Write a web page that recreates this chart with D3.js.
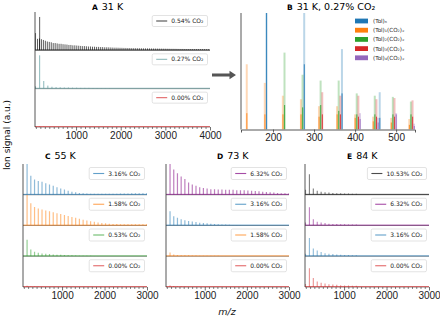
<!DOCTYPE html>
<html>
<head>
<meta charset="utf-8">
<script src="https://cdn.jsdelivr.net/npm/d3@7"></script>
<style>
  body { margin: 0; background: #fff; }
  svg { font-family: "DejaVu Sans", sans-serif; }
</style>
</head>
<body>
<svg id="chart" width="440" height="319"></svg>
<script>
// ---- peak positions (m/z) ----
const mzTol = [92, 184, 276, 368, 460, 552, 644, 736, 828, 920, 1012, 1104, 1196, 1288, 1380, 1472,
  1564, 1656, 1748, 1840, 1932, 2024, 2116, 2208, 2300, 2392, 2484, 2576, 2668, 2760, 2852, 2944];
const mzPair = [176, 264, 352, 440, 528, 616, 704, 792, 880, 968, 1056, 1144, 1232, 1320, 1408, 1496,
  1584, 1672, 1760, 1848, 1936, 2024, 2112, 2200, 2288, 2376, 2464, 2552, 2640, 2728, 2816, 2904, 2992];
const mzComb = [136, 180, 224, 268, 312, 356, 400, 444, 488, 532,
  576, 620, 664, 708, 752, 796, 840, 884, 928, 972,
  1016, 1060, 1104, 1148, 1192, 1236, 1280, 1324, 1368, 1412,
  1456, 1500, 1544, 1588, 1632, 1676, 1720, 1764, 1808, 1852,
  1896, 1940, 1984, 2028, 2072, 2116, 2160, 2204, 2248, 2292,
  2336, 2380, 2424, 2468, 2512, 2556, 2600, 2644, 2688, 2732,
  2776, 2820, 2864, 2908, 2952, 2996, 3040, 3084, 3128, 3172,
  3216, 3260, 3304, 3348, 3392, 3436, 3480, 3524, 3568, 3612,
  3656, 3700, 3744, 3788, 3832, 3876, 3920, 3964];

// ---- panel A, 31 K (relative peak heights) ----
const a054Main = [0.45, 0.87];
const a054Comb = [0.30, 0.31, 0.29, 0.27, 0.25, 0.23, 0.22, 0.21, 0.19, 0.19,
  0.18, 0.17, 0.17, 0.16, 0.155, 0.15, 0.14, 0.14, 0.13, 0.13,
  0.125, 0.12, 0.115, 0.11, 0.11, 0.105, 0.10, 0.10, 0.095, 0.095,
  0.09, 0.09, 0.085, 0.085, 0.08, 0.08, 0.078, 0.075, 0.073, 0.07,
  0.07, 0.068, 0.066, 0.065, 0.063, 0.062, 0.06, 0.06, 0.058, 0.057,
  0.056, 0.055, 0.054, 0.053, 0.052, 0.051, 0.05, 0.05, 0.049, 0.048,
  0.047, 0.046, 0.045, 0.045, 0.044, 0.043, 0.042, 0.041, 0.04, 0.04,
  0.039, 0.038, 0.037, 0.036, 0.036, 0.035, 0.034, 0.034, 0.033, 0.033,
  0.032, 0.032, 0.031, 0.031, 0.03, 0.03, 0.029, 0.029];
const a027 = [0.06, 0.87, 0.2, 0.08, 0.05, 0.04, 0.035, 0.03, 0.03, 0.025, 0.025, 0.02, 0.02, 0.02,
  0.015, 0.015, 0.01, 0.01, 0.01];
const a000 = [0.02, 0.015, 0.01];

// ---- panel B, 31 K 0.27% CO2 (light = full peak, dark = core) ----
const bMzTol = [184, 276, 368, 460];
const bTolLight = [1.4, 1.4, 0.69, 0.32];
const bTolDark = [1.4, 0.56, 0.31, 0.1];
const bMzT1 = [136, 180, 224, 268, 312, 356, 400, 444, 488, 532];
const bT1Light = [0.56, 0.40, 0.29, 0.26, 0.2, 0.2, 0.13, 0.11, 0.1, 0.09];
const bT1Dark = [0.14, 0.13, 0.13, 0.13, 0.11, 0.13, 0.1, 0.07, 0.06, 0.04];
const bMzT2 = [228, 272, 316, 360, 404, 448, 492, 536];
const bT2Light = [0.66, 0.47, 0.42, 0.42, 0.31, 0.29, 0.28, 0.24];
const bT2Dark = [0.21, 0.19, 0.21, 0.16, 0.13, 0.13, 0.13, 0.13];
const bMzT3 = [320, 364, 408, 452, 496, 540];
const bT3Light = [0.32, 0.29, 0.29, 0.26, 0.27, 0.25];
const bT3Dark = [0.13, 0.13, 0.11, 0.11, 0.11, 0.11];
const bMzT4 = [412, 456, 500, 544];
const bT4Light = [0.14, 0.1, 0.14, 0.05];
const bT4Dark = [0.09, 0.06, 0.13, 0.03];
const bLabels = ["(Tol)ₙ", "(Tol)₁(CO₂)ₓ", "(Tol)₂(CO₂)ₓ", "(Tol)₃(CO₂)ₓ", "(Tol)₄(CO₂)ₓ"];

// ---- panel C, 55 K ----
const c316 = [1.0, 0.62, 0.5, 0.45, 0.42, 0.37, 0.33, 0.29, 0.24, 0.2, 0.17, 0.13, 0.1, 0.08, 0.06, 0.05,
  0.04, 0.035, 0.03, 0.03, 0.03, 0.03, 0.03, 0.035, 0.035, 0.04, 0.04, 0.04, 0.045, 0.045, 0.05, 0.05, 0.05];
const c158 = [1.0, 0.72, 0.6, 0.55, 0.52, 0.49, 0.46, 0.43, 0.4, 0.37, 0.34, 0.31, 0.28, 0.25, 0.22, 0.19,
  0.16, 0.14, 0.12, 0.1, 0.08, 0.07, 0.06, 0.05, 0.045, 0.04, 0.04, 0.04, 0.04, 0.04, 0.04, 0.04, 0.04];
const c053 = [0.54, 0.22, 0.15, 0.11, 0.09, 0.08, 0.07, 0.06, 0.05, 0.045, 0.04, 0.035, 0.03, 0.025,
  0.02, 0.02, 0.015, 0.015, 0.01, 0.01];
const c000 = [0.04, 0.02, 0.015, 0.01, 0.01];

// ---- panel D, 73 K ----
const d632 = [1.0, 0.82, 0.7, 0.59, 0.51, 0.4, 0.33, 0.29, 0.24, 0.22, 0.2, 0.18, 0.18, 0.17, 0.17, 0.16,
  0.16, 0.16, 0.15, 0.15, 0.15, 0.14, 0.13, 0.12, 0.11, 0.1, 0.09, 0.08, 0.07, 0.06, 0.05, 0.05, 0.04];
const d316 = [0.46, 0.3, 0.25, 0.2, 0.17, 0.15, 0.13, 0.11, 0.09, 0.08, 0.07, 0.06, 0.05, 0.04, 0.035,
  0.03, 0.025, 0.02, 0.02, 0.015];
const d158 = [0.12, 0.06, 0.04, 0.035, 0.03, 0.03, 0.025, 0.025, 0.02, 0.02, 0.02, 0.02, 0.015, 0.015, 0.01, 0.01];
const d000 = [0.05, 0.03, 0.02, 0.015, 0.01];

// ---- panel E, 84 K ----
const e1053 = [0.16, 0.67, 0.2, 0.13, 0.1, 0.08, 0.07, 0.06, 0.05, 0.05, 0.04, 0.04, 0.03, 0.03];
const e632 = [0.1, 0.59, 0.2, 0.12, 0.1, 0.08, 0.06, 0.05, 0.05, 0.04, 0.04, 0.03, 0.03, 0.03];
const e316 = [0.08, 0.59, 0.25, 0.19, 0.14, 0.1, 0.08, 0.07, 0.06, 0.05, 0.04, 0.04, 0.03, 0.03];
const e000 = [0.1, 0.61, 0.29, 0.18, 0.14, 0.11, 0.09, 0.08, 0.07, 0.06, 0.05, 0.05, 0.04, 0.04];

const C = {
  blue: "#1f77b4", orange: "#ff7f0e", green: "#2ca02c", red: "#d62728",
  violet: "#9467bd", purple: "purple", teal: "#5f9ea0", black: "#000"
};

const svg = d3.select("#chart");
const defs = svg.append("defs");

// stacked spectra panels
const panels = [
  { key: "A", title: "31 K", tx: 92, ty: 9.5, x0: 35, x1: 210, top: 12, bottom: 127,
    domain: [80, 4000], majors: [1000, 2000, 3000, 4000], lw: 0.8, legH: 11,
    series: [
      { label: "0.54% CO₂", color: C.black, alpha: 0.8, parts: [[mzTol, a054Main], [mzComb, a054Comb]] },
      { label: "0.27% CO₂", color: C.teal, alpha: 0.9, parts: [[mzTol, a027]] },
      { label: "0.00% CO₂", color: C.red, alpha: 0.6, parts: [[mzTol, a000]] }
    ] },
  { key: "C", title: "55 K", tx: 45, ty: 158.5, x0: 23, x1: 147, top: 164, bottom: 287,
    domain: [80, 3000], majors: [1000, 2000, 3000], lw: 1.2, legH: 12,
    series: [
      { label: "3.16% CO₂", color: C.blue, parts: [[mzPair, c316]] },
      { label: "1.58% CO₂", color: C.orange, parts: [[mzPair, c158]] },
      { label: "0.53% CO₂", color: C.green, parts: [[mzPair, c053]] },
      { label: "0.00% CO₂", color: C.red, parts: [[mzPair, c000]] }
    ] },
  { key: "D", title: "73 K", tx: 217, ty: 158.5, x0: 166, x1: 289, top: 164, bottom: 287,
    domain: [80, 3000], majors: [1000, 2000, 3000], lw: 1.2, legH: 12,
    series: [
      { label: "6.32% CO₂", color: C.purple, parts: [[mzPair, d632]] },
      { label: "3.16% CO₂", color: C.blue, parts: [[mzPair, d316]] },
      { label: "1.58% CO₂", color: C.orange, parts: [[mzPair, d158]] },
      { label: "0.00% CO₂", color: C.red, parts: [[mzPair, d000]] }
    ] },
  { key: "E", title: "84 K", tx: 347, ty: 158.5, x0: 305, x1: 429, top: 164, bottom: 287,
    domain: [80, 3000], majors: [1000, 2000, 3000], lw: 1.1, legH: 12,
    series: [
      { label: "10.53% CO₂", color: C.black, parts: [[mzTol, e1053]] },
      { label: "6.32% CO₂", color: C.purple, parts: [[mzTol, e632]] },
      { label: "3.16% CO₂", color: C.blue, parts: [[mzTol, e316]] },
      { label: "0.00% CO₂", color: C.red, parts: [[mzTol, e000]] }
    ] }
];

function drawTitle(letter, text, x, y) {
  const t = svg.append("text").attr("x", x).attr("y", y).attr("fill", "#000");
  t.append("tspan").attr("font-weight", "bold").attr("font-size", 7.5).text(letter);
  t.append("tspan").attr("dx", 4).attr("font-size", 9.5).text(text);
}

function drawLegend(s, right, top, h) {
  const g = svg.append("g");
  const box = g.append("rect");
  const cy = top + h / 2;
  const t = g.append("text").attr("font-size", 6).attr("fill", "#222").text(s.label);
  const w = t.node().getComputedTextLength() + 23;
  const left = right - w;
  box.attr("x", left).attr("y", top).attr("width", w).attr("height", h)
    .attr("rx", 1.5).attr("fill", "#fff").attr("fill-opacity", 0.85)
    .attr("stroke", "#d0d0d0").attr("stroke-width", 0.6);
  g.append("line").attr("x1", left + 4).attr("x2", left + 15).attr("y1", cy).attr("y2", cy)
    .attr("stroke", s.color).attr("stroke-width", 1.1).attr("stroke-opacity", 0.7);
  t.attr("x", left + 19).attr("y", cy + 2.1);
}

function drawStack(p) {
  const x = d3.scaleLinear().domain(p.domain).range([p.x0, p.x1]);
  const h = (p.bottom - p.top) / p.series.length;

  p.series.forEach((s, i) => {
    const top = p.top + i * h, bot = top + h;
    const y = d3.scaleLinear().domain([0, 1]).range([bot, top]);
    const id = `clip-${p.key}-${i}`;
    defs.append("clipPath").attr("id", id).append("rect")
      .attr("x", p.x0).attr("y", top).attr("width", p.x1 - p.x0).attr("height", h);

    const peaks = s.parts.flatMap(([mz, val]) => val.map((v, k) => ({ mz: mz[k], v })));
    svg.append("g").attr("clip-path", `url(#${id})`)
      .selectAll("line").data(peaks).join("line")
        .attr("x1", d => x(d.mz)).attr("x2", d => x(d.mz))
        .attr("y1", y(0)).attr("y2", d => y(d.v))
        .attr("stroke", s.color).attr("stroke-width", p.lw)
        .attr("stroke-opacity", s.alpha || 0.5);

    // spine of this subplot + the spectrum baseline on top of it
    svg.append("line").attr("x1", p.x0).attr("x2", p.x1).attr("y1", bot).attr("y2", bot)
      .attr("stroke", "#777").attr("stroke-width", 0.8);
    svg.append("line").attr("x1", p.x0).attr("x2", p.x1).attr("y1", y(0) - 0.4).attr("y2", y(0) - 0.4)
      .attr("stroke", s.color).attr("stroke-width", 0.9).attr("stroke-opacity", 0.75);

    drawLegend(s, p.x1 - 2.5, top + 3.5, p.legH);
  });

  svg.append("line").attr("x1", p.x0).attr("x2", p.x0).attr("y1", p.top).attr("y2", p.bottom)
    .attr("stroke", "#444").attr("stroke-width", 0.9);

  const minors = d3.range(100, p.domain[1] + 1, 100).filter(v => v > p.domain[0] && !p.majors.includes(v));
  svg.append("g").attr("transform", `translate(0,${p.bottom})`)
    .call(d3.axisBottom(x).tickValues(minors).tickSize(2).tickFormat(""))
    .call(g => g.select(".domain").remove())
    .call(g => g.selectAll("line").attr("stroke", "#333").attr("stroke-width", 0.6));
  svg.append("g").attr("transform", `translate(0,${p.bottom})`)
    .attr("font-size", 7).attr("font-family", "DejaVu Sans")
    .call(d3.axisBottom(x).tickValues(p.majors).tickSize(3.5).tickPadding(1.5).tickFormat(d3.format("d")))
    .call(g => g.select(".domain").remove())
    .call(g => g.selectAll("line").attr("stroke", "#333").attr("stroke-width", 0.7))
    .call(g => g.selectAll("text").attr("fill", "#222"));

  drawTitle(p.key, p.title, p.tx, p.ty);
}

panels.forEach(drawStack);

// ---- panel B: cluster families ----
function drawFamilies() {
  const x0 = 241, x1 = 415, top = 13, bottom = 129.5;
  const x = d3.scaleLinear().domain([122, 546]).range([x0, x1]);
  const y = d3.scaleLinear().domain([0, 1]).range([bottom, top]);
  defs.append("clipPath").attr("id", "clip-B").append("rect")
    .attr("x", x0).attr("y", top).attr("width", x1 - x0).attr("height", bottom - top);

  const families = [
    { color: C.blue, mz: bMzTol, light: bTolLight, dark: bTolDark },
    { color: C.orange, mz: bMzT1, light: bT1Light, dark: bT1Dark },
    { color: C.green, mz: bMzT2, light: bT2Light, dark: bT2Dark },
    { color: C.red, mz: bMzT3, light: bT3Light, dark: bT3Dark },
    { color: C.violet, mz: bMzT4, light: bT4Light, dark: bT4Dark }
  ];
  const g = svg.append("g").attr("clip-path", "url(#clip-B)");
  families.forEach(f => {
    const rows = f.mz.map((m, k) => ({ m, light: f.light[k], dark: f.dark[k] }));
    g.append("g").selectAll("rect").data(rows).join("rect")
      .attr("x", d => x(d.m) - 1).attr("width", 2)
      .attr("y", d => y(d.light)).attr("height", d => y(0) - y(d.light))
      .attr("fill", f.color).attr("fill-opacity", 0.3);
    g.append("g").selectAll("rect").data(rows).join("rect")
      .attr("x", d => x(d.m) - 0.4).attr("width", 1)
      .attr("y", d => y(d.dark)).attr("height", d => y(0) - y(d.dark))
      .attr("fill", f.color).attr("fill-opacity", 0.85);
  });

  svg.append("line").attr("x1", x0).attr("x2", x0).attr("y1", top).attr("y2", bottom)
    .attr("stroke", "#444").attr("stroke-width", 0.9);
  svg.append("g").attr("transform", `translate(0,${bottom})`)
    .attr("font-size", 7).attr("font-family", "DejaVu Sans")
    .call(d3.axisBottom(x).tickValues([200, 300, 400, 500]).tickSize(3).tickPadding(1.5))
    .call(g => g.select(".domain").attr("stroke", "#444").attr("stroke-width", 0.9))
    .call(g => g.selectAll(".tick line").attr("stroke", "#333").attr("stroke-width", 0.7))
    .call(g => g.selectAll("text").attr("fill", "#222"));

  // legend
  const leg = svg.append("g").selectAll("g").data(families).join("g")
    .attr("transform", (d, i) => `translate(355,${21 + i * 9.2})`);
  leg.append("rect").attr("x", 0).attr("y", -2.4).attr("width", 13).attr("height", 4.8)
    .attr("fill", d => d.color);
  leg.append("text").attr("x", 18).attr("y", 2).attr("font-size", 5.6).attr("fill", "#222")
    .text((d, i) => bLabels[i]);

  drawTitle("B", "31 K, 0.27% CO₂", 287, 9.5);
}
drawFamilies();

// arrow from A to B
svg.append("path")
  .attr("d", "M212,73.4 L229.5,73.4 L229.5,70.8 L236,75 L229.5,79.2 L229.5,76.6 L212,76.6 Z")
  .attr("fill", "#555");

// shared axis labels
svg.append("text").attr("transform", "translate(9.5,135) rotate(-90)")
  .attr("text-anchor", "middle").attr("font-size", 9).attr("fill", "#111")
  .text("Ion signal (a.u.)");
svg.append("text").attr("x", 227).attr("y", 315).attr("text-anchor", "middle")
  .attr("font-size", 9.5).attr("font-style", "italic").attr("fill", "#111")
  .text("m/z");
</script>
</body>
</html>
